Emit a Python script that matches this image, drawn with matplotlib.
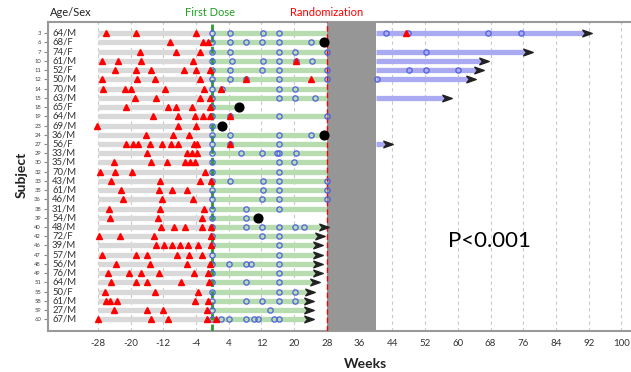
import matplotlib
matplotlib.use("Agg")
import matplotlib.pyplot as plt
from matplotlib.path import Path
import numpy as np

plt.rcParams['font.family'] = ['Lato', 'DejaVu Sans']

subjects = [3, 6, 7, 10, 11, 12, 14, 15, 18, 19, 23, 24, 27, 29, 30, 32,
            33, 35, 36, 38, 39, 40, 42, 46, 47, 48, 49, 51, 55, 58, 59, 60]
age_sex = ["64/M", "68/F", "74/F", "61/M", "52/F", "50/M", "70/M", "63/M",
           "65/F", "64/M", "69/M", "36/M", "56/F", "33/M", "35/M", "70/M",
           "43/M", "61/M", "46/M", "31/M", "54/M", "48/M", "72/F", "39/M",
           "57/M", "56/M", "76/M", "64/M", "50/F", "61/M", "27/M", "67/M"]

# red triangle events (weeks)
triangles = [
    [-25.9, -18.8, -3.9],
    [-10.4, -2.3, -1.0],
    [-17.7, -9.0, -3.0],
    [-27.0, -23.0, -17.4, -4.7, 20.4],
    [-23.8, -18.8, -15.0, -7.0, -4.0, -0.5],
    [-27.0, -18.5, -14.0, -3.0, 8.2, 24.2],
    [-26.7, -21.3, -19.8, -11.7, -2.0, 2.2],
    [-18.9, -13.9, -3.0, -0.5],
    [-21.1, -10.9, -9.0, -5.0, -0.6],
    [-14.5, -8.4, -4.3, -2.2, -0.5, 4.2],
    [-28.3, -8.4, -4.0],
    [-16.3, -9.6, -5.7],
    [-21.2, -19.3, -18.1, -15.2, -12.3, -10.1, -8.3, -4.4, -3.7, 4.2],
    [-16.0, -6.2, -5.0, -3.7],
    [-24.1, -15.0, -11.0, -6.6, -5.4, -4.3],
    [-27.6, -23.8, -19.7, -1.8],
    [-24.9, -12.9, -3.0, -0.3],
    [-22.4, -13.1, -10.0, -6.3],
    [-21.8, -12.3, -4.8],
    [-25.3, -12.7, -2.0],
    [-25.1, -13.2, -2.5],
    [-12.5, -9.4, -6.6, -2.6, -0.3],
    [-27.8, -22.7, -14.4, -0.3],
    [-13.9, -11.8, -10.0, -7.9, -6.0, -3.5, -0.4],
    [-27.1, -18.6, -16.1, -8.6, -5.8, -2.6],
    [-23.6, -15.2, -6.3, -0.7],
    [-25.5, -20.5, -17.5, -13.1, -4.5, -1.2],
    [-24.7, -18.6, -16.0, -7.6, -0.9],
    [-26.2, -14.1, -3.6],
    [-26.1, -25.1, -23.3, -4.2, -1.2],
    [-24.1, -15.9, -12.0, -1.3],
    [-27.9, -14.9, -10.9, -1.3, 0.8],
]

# blue open circle events (weeks)
circles = [
    [0, 4.4, 12.3, 16.4],
    [0, 4.2, 8.3, 12.2, 16.2, 24.2],
    [0, 4.4, 16.2, 20.1, 28],
    [0, 4.7, 12.3, 16.4, 20.4, 24.4],
    [0, 4.2, 12.1, 16.2, 28],
    [0, 4.2, 8.2, 16.2, 28],
    [0, 2.4, 16.2, 20.3],
    [0, 16.2, 20.3, 25.1],
    [0],
    [0, 4.2, 16.2, 28],
    [0],
    [0, 4.2, 16.2, 24.2],
    [0, 4.2, 16.2],
    [0, 7.1, 12.2, 15.7, 16.4, 20.5],
    [0, 16.4, 19.9],
    [0, 16.2],
    [0, 4.4, 12.3, 16.4, 28],
    [0, 12.3, 16.2, 28],
    [0, 12.1, 16.2, 28],
    [0, 8.2, 16.2],
    [0, 8.2],
    [0, 8.3, 12.2, 16.2, 20.3, 22.3],
    [0, 12.1, 16.2],
    [0, 16.2],
    [0, 16.2],
    [0, 4.1, 8.3, 9.4, 16.4],
    [0, 16.4],
    [0, 8.2, 16.2],
    [0, 16.2, 20.3],
    [0, 8.3, 12.2, 16.2, 20.3],
    [0, 14.2],
    [0, 2.1, 4.1, 8.2, 10.2, 11.1, 15.0, 16.2],
]

# end of treatment period (weeks) and how it ends
treat_end = [28, 27.2, 28, 28, 28, 28, 28, 28, 6.5, 28, 2.4, 27.2, 28, 28, 28, 28,
             28, 28, 28, 28, 11.1, 26.8, 25.6, 25.2, 25.2, 25.2, 25.2, 24.4, 23.2,
             22.9, 22.9, 22.9]
end_type = ["line", "dot", "line", "line", "line", "line", "line", "line",
            "dot", "line", "dot", "dot", "line", "line", "line", "line",
            "line", "line", "line", "line", "dot", "arrow", "arrow", "arrow",
            "arrow", "arrow", "arrow", "arrow", "arrow", "arrow", "arrow", "arrow"]

# extension period (starts after the gap at week 40)
ext_rows = [0, 2, 3, 4, 5, 7, 12]
ext_end = [91.0, 76.5, 65.8, 64.6, 62.7, 56.8, 42.3]
ext_circles = [[42.4, 47.7, 67.4, 75.4], [52.3], [], [48.1, 52.1, 60.1], [40.3], [], []]
ext_triangles = [[47.3], [], [], [], [], [], []]

xticks = list(range(-28, 101, 8))

W, H = 631, 372
fig = plt.figure(figsize=(W / 100, H / 100), dpi=100)
ax = fig.add_axes([48 / W, 1 - 331 / H, 582 / W, 309 / H])

n = len(subjects)
ax.set_xlim(-40.2, 102.1)
ax.set_ylim(n + 0.27, -1.22)

for x in xticks:
    ax.axvline(x, color="#c8c8c8", lw=0.8, ls=(0, (3, 3)), zorder=0.5)

bar_lw = 3.8
arrow_path = Path([(-1, -0.7), (1, 0), (-1, 0.7), (-0.45, 0), (-1, -0.7)],
                  [Path.MOVETO, Path.LINETO, Path.LINETO, Path.LINETO, Path.CLOSEPOLY])
arrow_ms = 6.8
arrow_col = "#222222"

for i in range(n):
    ax.plot([-28, 0], [i, i], color="#d9d9d9", lw=bar_lw, solid_capstyle="butt", zorder=2)
    ax.plot([0, treat_end[i]], [i, i], color="#b6dcb0", lw=bar_lw, solid_capstyle="butt", zorder=2)
    if end_type[i] == "dot":
        ax.plot(treat_end[i], i, "o", color="black", ms=6.3, zorder=7)
    elif end_type[i] == "arrow":
        ax.plot(treat_end[i] + 0.6, i, marker=arrow_path, color=arrow_col, ms=arrow_ms, zorder=7, ls="none")

for r, e, ec, et in zip(ext_rows, ext_end, ext_circles, ext_triangles):
    ax.plot([40, e], [r, r], color="#aaaaf2", lw=bar_lw, solid_capstyle="butt", zorder=2)
    ax.plot(e + 0.6, r, marker=arrow_path, color=arrow_col, ms=arrow_ms, zorder=7, ls="none")
    if ec:
        ax.plot(ec, [r] * len(ec), "o", mfc="none", mec="#5060e0", mew=0.9, ms=3.8, zorder=6, ls="none")
    if et:
        ax.plot(et, [r] * len(et), "^", color="red", ms=4.5, zorder=6.5, ls="none")

for i in range(n):
    c = circles[i]
    ax.plot(c, [i] * len(c), "o", mfc="none", mec="#5060e0", mew=0.9, ms=3.8, zorder=6, ls="none")
    t = triangles[i]
    ax.plot(t, [i] * len(t), "^", color="red", ms=4.5, zorder=6.5, ls="none")

ax.axvspan(28, 40, color="#969696", zorder=3, lw=0)
ax.axvline(0, color="#2e9a2e", lw=2, ls=(0, (2.5, 1.5)), zorder=4)
ax.axvline(28, color="red", lw=1, ls=(0, (4, 2)), zorder=4)

for i, a in enumerate(age_sex):
    ax.text(-39.2, i, a, ha="left", va="center", fontsize=6.8, color="#333333", zorder=8)

ax.set_yticks(range(n))
ax.set_yticklabels([str(s) for s in subjects], fontsize=4.2, color="#444444")
ax.tick_params(axis="y", length=3, color="#888888", pad=2)
ax.set_xticks(xticks)
ax.set_xticklabels([str(x) for x in xticks], fontsize=7, color="#333333")
ax.tick_params(axis="x", length=0, pad=6)

for s in ["left", "bottom", "top"]:
    ax.spines[s].set_color("#999999")
    ax.spines[s].set_linewidth(1.5)
ax.spines["right"].set_visible(False)

ax.text(67.8, 22.5, "P<0.001", fontsize=16, ha="center", va="center", color="black", zorder=8)

fig.text(50 / W, 1 - 12 / H, "Age/Sex", fontsize=8, ha="left", va="center", color="#222222")
fig.text(210 / W, 1 - 13 / H, "First Dose", fontsize=8, ha="center", va="center", color="#22a022")
fig.text(327 / W, 1 - 13 / H, "Randomization", fontsize=8, ha="center", va="center", color="red")
fig.text(22 / W, 1 - 175 / H, "Subject", fontsize=10, fontweight="bold", rotation=90,
         ha="center", va="center", color="#222222")
fig.text(366 / W, 1 - 364 / H, "Weeks", fontsize=10, fontweight="bold", ha="center",
         va="center", color="#222222")

fig.savefig("out.png", dpi=100)
